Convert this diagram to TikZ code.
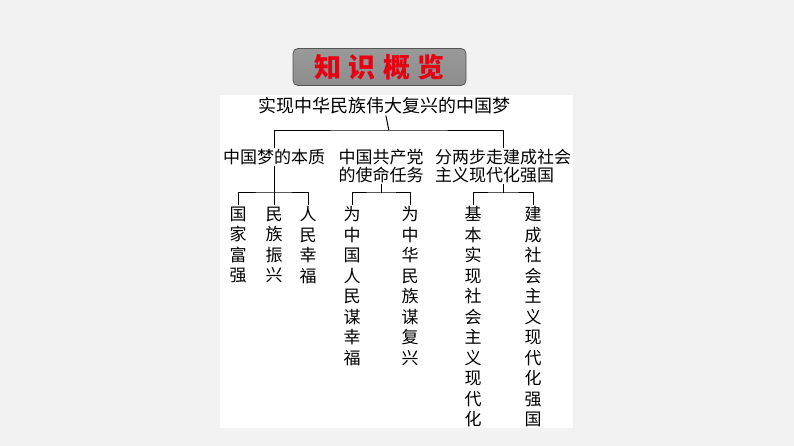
\documentclass[tikz,border=0pt]{standalone}
\usepackage{fontspec}
\usepackage{xcolor}
\usepackage{tikz}
\usetikzlibrary{positioning, calc}
\newfontfamily\cjk{Noto Sans CJK SC}
\definecolor{bggray}{RGB}{242, 242, 242}
\definecolor{titlegray}{RGB}{128, 128, 128}
\definecolor{titleedge}{RGB}{85, 85, 85}
\definecolor{titlered}{RGB}{230, 0, 18}
\tikzset{
    label/.style={inner sep=1pt, font=\cjk\fontsize{17}{18}\selectfont},
    vtext/.style={inner sep=1.5pt, align=center, anchor=north, font=\cjk\fontsize{17}{20.5}\selectfont},
    line/.style={draw=black, line width=1pt}
}

\begin{document}
\begin{tikzpicture}[x=1pt, y=-1pt]
        \useasboundingbox (0,0) rectangle (794,446);
        \fill[bggray] (0,0) rectangle (794,446);
        \fill[white] (220,95) rectangle (573,428);

        \node[draw=titleedge, line width=0.8pt, rounded corners=5pt, top color=titlegray!80, bottom color=titlegray!110!black,
            minimum width=173pt, minimum height=37pt] (title) at (379.5,67)
            {\cjk\bfseries\fontsize{27}{27}\selectfont\textcolor{titlered}{知\hspace{7.5pt}识\hspace{7.5pt}概\hspace{7.5pt}览}};

        \node[label, font=\cjk\fontsize{18}{19}\selectfont] (dream) at (384,106) {实现中华民族伟大复兴的中国梦};

        \node[label] (essence) at (274,157) {中国梦的本质};
        \node[label, align=center] (mission) at (381,166) {中国共产党\\的使命任务};
        \node[label, align=left] (steps) at (503,166) {分两步走建成社会\\主义现代化强国};

        \node[vtext] (rich) at (238,205) {国\\家\\富\\强};
        \node[vtext] (revive) at (274,205) {民\\族\\振\\兴};
        \node[vtext] (happy) at (308,205) {人\\民\\幸\\福};
        \node[vtext] (people) at (352,205) {为\\中\\国\\人\\民\\谋\\幸\\福};
        \node[vtext] (nation) at (410,205) {为\\中\\华\\民\\族\\谋\\复\\兴};
        \node[vtext] (basic) at (473,205) {基\\本\\实\\现\\社\\会\\主\\义\\现\\代\\化};
        \node[vtext] (built) at (533,205) {建\\成\\社\\会\\主\\义\\现\\代\\化\\强\\国};

        % connectors
        \coordinate (bus0) at (389,131);
        \coordinate (bus1) at (274,193);
        \coordinate (bus2) at (381,193);
        \coordinate (bus3) at (503,193);
        \draw[line] (dream) -- (bus0);
        \draw[line] (essence.north) |- (bus0) -| (steps.north);
        \draw[line] (essence) -- (bus1);
        \draw[line] (rich.north) |- (bus1) -| (happy.north);
        \draw[line] (bus1) -- (revive.north);
        \draw[line] (mission) -- (bus2);
        \draw[line] (people.north) |- (bus2) -| (nation.north);
        \draw[line] (steps) -- (bus3);
        \draw[line] (basic.north) |- (bus3) -| (built.north);
    \end{tikzpicture}
\end{document}
